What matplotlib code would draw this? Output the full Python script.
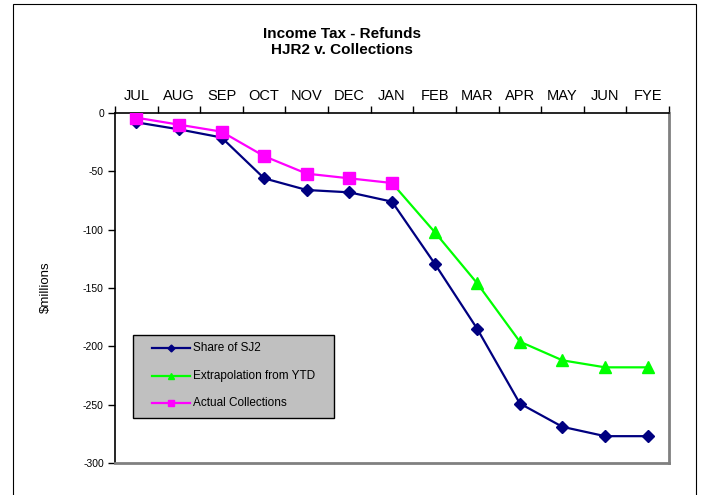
import matplotlib
matplotlib.use("Agg")
import matplotlib.pyplot as plt
from matplotlib.lines import Line2D
from matplotlib.patches import Rectangle
import numpy as np

plt.rcParams['font.family'] = ['Liberation Sans', 'DejaVu Sans']

months = ["JUL", "AUG", "SEP", "OCT", "NOV", "DEC", "JAN",
          "FEB", "MAR", "APR", "MAY", "JUN", "FYE"]

share_sj2 = [-8, -14, -21, -56, -66, -68, -76,
             -129, -185, -249, -269, -277, -277]
# Extrapolation begins at the last actual month (JAN)
extrap_months = ["JAN", "FEB", "MAR", "APR", "MAY", "JUN", "FYE"]
extrapolation = [-60, -102, -146, -196, -212, -218, -218]
actual_months = ["JUL", "AUG", "SEP", "OCT", "NOV", "DEC", "JAN"]
actual = [-4, -10, -16, -37, -52, -56, -60]

y_ticks = [0, -50, -100, -150, -200, -250, -300]

W, H = 702, 495
fig = plt.figure(figsize=(W / 100, H / 100), dpi=100)
ax = fig.add_axes([115 / W, 1 - 463 / H, (669 - 115) / W, 350 / H])

xpos = {m: i for i, m in enumerate(months)}
x_all = [xpos[m] for m in months]
x_ext = [xpos[m] for m in extrap_months]
x_act = [xpos[m] for m in actual_months]

ax.plot(x_all, share_sj2, color="#000080", lw=1.6, marker="D", ms=6.5,
        mec="#000080", mfc="#000080", zorder=3)
ax.plot(x_ext, extrapolation, color="#00FF00", lw=1.6, marker="^", ms=8,
        mec="#00FF00", mfc="#00FF00", markevery=list(range(1, len(x_ext))), zorder=3)
ax.plot(x_act, actual, color="#FF00FF", lw=1.6, marker="s", ms=8,
        mec="#FF00FF", mfc="#FF00FF", zorder=4)

ax.set_xlim(-0.5, len(months) - 0.5)
ax.set_ylim(-300, 0)

# Category axis sits on top (values are negative); labels centred in bins
ax.xaxis.set_ticks_position("top")
ax.set_xticks(x_all)
ax.set_xticklabels(months, fontsize=10.5)
ax.set_xticks(np.arange(-0.5, len(months), 1.0), minor=True)
ax.tick_params(axis="x", which="major", length=0, pad=7, top=True, labeltop=True,
               bottom=False, labelbottom=False)
ax.tick_params(axis="x", which="minor", length=5, width=1, direction="out",
               top=True, bottom=False, color="black")

ax.set_yticks(y_ticks)
ax.set_yticklabels([str(v) for v in y_ticks], fontsize=7.5)
ax.tick_params(axis="y", length=5, width=1, direction="out", pad=3)

ax.spines["top"].set_color("black")
ax.spines["top"].set_linewidth(1.2)
ax.spines["left"].set_color("black")
ax.spines["left"].set_linewidth(1.2)
ax.spines["right"].set_color("#808080")
ax.spines["right"].set_linewidth(2)
ax.spines["bottom"].set_color("#808080")
ax.spines["bottom"].set_linewidth(2)

fig.text(46 / W, 1 - 287 / H, "$millions", rotation=90, fontsize=9.5,
         ha="center", va="center")

fig.text(342 / W, 1 - 42 / H, "Income Tax - Refunds\nHJR2 v. Collections",
         ha="center", va="center", fontsize=11, fontweight="bold", linespacing=1.25)

# Legend box, laid out in figure pixel units
def fx(px):
    return px / W

def fy(py):
    return 1 - py / H

legend_styles = [
    dict(color="#000080", marker="D", ms=3.5),
    dict(color="#00FF00", marker="^", ms=4.5),
    dict(color="#FF00FF", marker="s", ms=5),
]
labels = ["Share of SJ2", "Extrapolation from YTD", "Actual Collections"]
row_y = [348, 376, 403]

fig.patches.append(Rectangle((fx(133), fy(418)), fx(334) - fx(133), fy(335) - fy(418),
                             transform=fig.transFigure, facecolor="#C0C0C0",
                             edgecolor="black", lw=1, zorder=5))
for style, label, ry in zip(legend_styles, labels, row_y):
    fig.lines.append(Line2D([fx(152), fx(190)], [fy(ry), fy(ry)], lw=1.6,
                            color=style["color"], transform=fig.transFigure, zorder=6))
    fig.lines.append(Line2D([fx(171)], [fy(ry)], lw=0, marker=style["marker"],
                            ms=style["ms"], color=style["color"],
                            transform=fig.transFigure, zorder=7))
    fig.text(fx(193), fy(ry), label, fontsize=8.5, ha="left", va="center",
             zorder=8)

# Chart-area border
fig.patches.append(Rectangle((12.5 / W, -0.05), (696 - 12.5) / W, 1 - 4 / H + 0.05,
                             transform=fig.transFigure, fill=False,
                             edgecolor="black", lw=0.8))

fig.savefig("out.png", dpi=100)
